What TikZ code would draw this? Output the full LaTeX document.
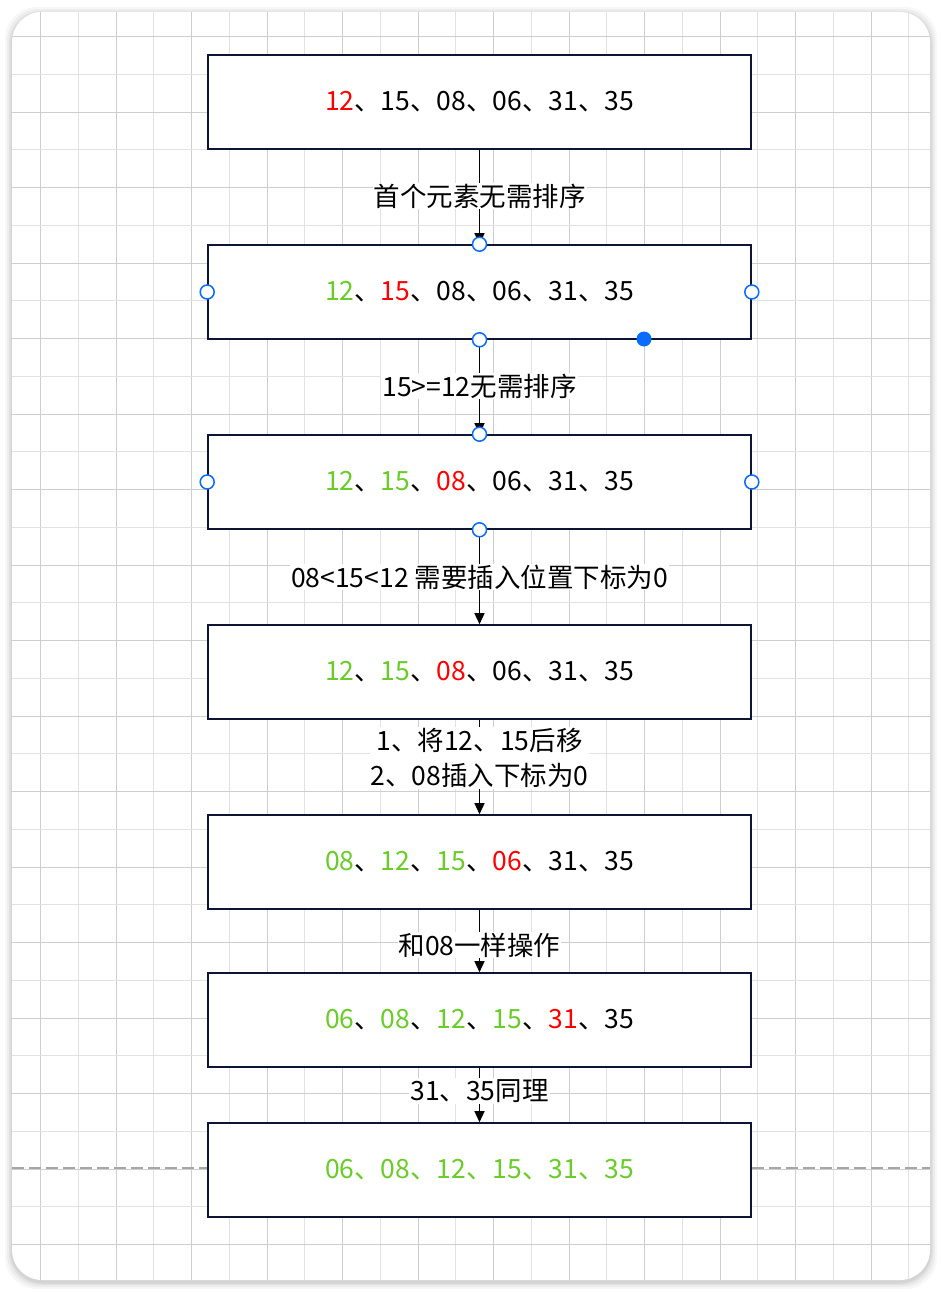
\documentclass[tikz,border=0pt]{standalone}
\usepackage{fontspec}
\setmainfont{Noto Sans CJK SC}
\usetikzlibrary{arrows.meta}
\definecolor{gr}{RGB}{106,204,40}
\definecolor{rd}{RGB}{255,0,0}
\definecolor{nav}{RGB}{14,20,52}
\definecolor{hb}{RGB}{10,108,255}
\definecolor{gmaj}{RGB}{206,206,206}
\definecolor{gmin}{RGB}{226,226,226}
\tikzset{
  stepbox/.style={draw=nav, line width=1.6pt, fill=white, minimum width=543pt, minimum height=94pt, inner sep=0pt, font=\fontsize{26.5}{32}\selectfont},
  lbl/.style={fill=white, inner sep=1pt, font=\fontsize{26.5}{35}\selectfont, align=center},
  conn/.style={line width=1.4pt, -{Triangle[length=11pt,width=10pt]}},
  hnd/.style={draw=hb, line width=1.5pt, fill=white, circle, minimum size=14pt, inner sep=0pt},
  hndf/.style={fill=hb, circle, minimum size=15pt, inner sep=0pt},
}
\newcommand{\G}[1]{\textcolor{gr}{#1}}
\newcommand{\R}[1]{\textcolor{rd}{#1}}
\begin{document}
\begin{tikzpicture}[x=1pt,y=-1pt]
\useasboundingbox (0,0) rectangle (942,1292);
% shadow
\foreach \o/\a in {7/0.03,5/0.04,3/0.05,1.5/0.06}{
  \fill[black,opacity=\a,rounded corners=32pt] (12-\o,12-\o+2) rectangle (930+\o,1280+\o+2);
}
% card
\fill[white,rounded corners=30pt] (12,12) rectangle (930,1280);
\begin{scope}
\clip[rounded corners=30pt] (12,12) rectangle (930,1280);
\foreach \k in {0,...,24}{
  \pgfmathtruncatemacro{\e}{mod(\k,2)}
  \pgfmathsetmacro{\xx}{round(40+37.75*\k)+0.5}
  \ifnum\e=0 \def\gc{gmaj}\else\def\gc{gmin}\fi
  \draw[\gc,line width=1.8pt] (\xx,12) -- (\xx,1280);
}
\foreach \k in {0,...,33}{
  \pgfmathtruncatemacro{\e}{mod(\k,2)}
  \pgfmathsetmacro{\yy}{round(36+37.75*\k)+0.5}
  \ifnum\e=0 \def\gc{gmaj}\else\def\gc{gmin}\fi
  \draw[\gc,line width=1.8pt] (12,\yy) -- (930,\yy);
}
\end{scope}
% nodes
\node[stepbox] (b1) at (479.5,102) {\raisebox{-2pt}{\R{12}、15、08、06、31、35}};
\node[stepbox] (b2) at (479.5,292) {\raisebox{-2pt}{\G{12}、\R{15}、08、06、31、35}};
\node[stepbox] (b3) at (479.5,482) {\raisebox{-2pt}{\G{12}、\G{15}、\R{08}、06、31、35}};
\node[stepbox] (b4) at (479.5,672) {\raisebox{-2pt}{\G{12}、\G{15}、\R{08}、06、31、35}};
\node[stepbox] (b5) at (479.5,862) {\raisebox{-2pt}{\G{08}、\G{12}、\G{15}、\R{06}、31、35}};
\node[stepbox] (b6) at (479.5,1020) {\raisebox{-2pt}{\G{06}、\G{08}、\G{12}、\G{15}、\R{31}、35}};
\node[stepbox] (b7) at (479.5,1170) {\raisebox{-2pt}{\G{06、08、12、15、31、35}}};
% dashed line
\coordinate (dl) at (12,1168);
\coordinate (dr) at (930,1168);
\draw[gray!70,line width=1.4pt,dash pattern=on 12pt off 5pt] (dl) -- (b7.west |- dl);
\draw[gray!70,line width=1.4pt,dash pattern=on 12pt off 5pt] (b7.east |- dr) -- (dr);
% connectors
\draw[conn] (b1) -- (b2);
\draw[conn] (b2) -- (b3);
\draw[conn] (b3) -- (b4);
\draw[conn] (b4) -- (b5);
\draw[conn] (b5) -- (b6);
\draw[conn] (b6) -- (b7);
% labels
\node[lbl] (l1) at (479.5,196) {首个元素无需排序};
\node[lbl] (l2) at (479.5,386) {15>=12无需排序};
\node[lbl] (l3) at (479.5,577) {08<15<12 需要插入位置下标为0};
\node[lbl] (l4) at (479.5,758) {1、将12、15后移\\2、08插入下标为0};
\node[lbl] (l5) at (479.5,945) {和08一样操作};
\node[lbl] (l6) at (479.5,1091) {31、35同理};
% handles
\node[hnd] (h1) at (b2.north) {};
\node[hnd] (h2) at (b2.west) {};
\node[hnd] (h3) at (b2.east) {};
\node[hnd] (h4) at (b2.south) {};
\node[hndf] (h5) at (644,339) {};
\node[hnd] (h6) at (b3.north) {};
\node[hnd] (h7) at (b3.west) {};
\node[hnd] (h8) at (b3.east) {};
\node[hnd] (h9) at (b3.south) {};
\end{tikzpicture}
\end{document}
